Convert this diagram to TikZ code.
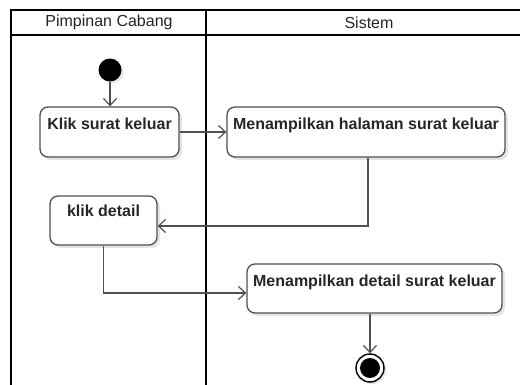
\documentclass[tikz,border=0pt]{standalone}
\usepackage{fontspec}
\setmainfont{Liberation Sans}
\usetikzlibrary{arrows.meta,calc,shadows}
\definecolor{edge}{HTML}{505050}
\definecolor{ink}{HTML}{262626}
\begin{document}
\begin{tikzpicture}[x=1pt,y=-1pt,
  lane/.style={draw=black,line width=2pt},
  lanetitle/.style={text=ink,font=\fontsize{16}{19}\selectfont,inner sep=0pt},
  action/.style={draw=edge,line width=1.3pt,rounded corners=8pt,fill=white,
    text=ink,font=\bfseries\fontsize{16}{19}\selectfont,inner xsep=0pt,inner ysep=0pt,
    drop shadow={shadow xshift=3pt,shadow yshift=-3pt,fill=black!10,opacity=1}},
  flow/.style={draw=edge,line width=1.2pt,-{Straight Barb[length=7pt,width=13pt,line width=1.2pt]}},
  startdot/.style={circle,fill=black,minimum size=23pt,inner sep=0pt,
    drop shadow={shadow xshift=2pt,shadow yshift=-2pt,fill=black!10,opacity=1}},
  enddot/.style={circle,draw=black,line width=1.4pt,fill=white,minimum size=28pt,inner sep=0pt,
    drop shadow={shadow xshift=2pt,shadow yshift=-2pt,fill=black!10,opacity=1}},
]
\useasboundingbox (0,0) rectangle (520,385);
\fill[white] (0,0) rectangle (520,385);

% swimlanes
\draw[lane] (11,385) -- (11,10) -- (521,10);
\draw[lane] (11,35) -- (521,35);
\draw[lane] (206,10) -- (206,385);
\node[lanetitle] (laneA) at (109,22.5) {Pimpinan Cabang};
\node[lanetitle] (laneB) at (369,22.5) {Sistem};

% activity nodes
\node[startdot] (start) at (110,70) {};
\node[action,minimum width=139pt,text height=23pt,text depth=27pt] (klik) at (109.5,132) {Klik surat keluar};
\node[action,minimum width=278pt,text height=23pt,text depth=27pt] (halaman) at (366,132) {Menampilkan halaman surat keluar};
\node[action,minimum width=107pt,text height=21pt,text depth=28pt] (detailk) at (103.5,220.5) {klik detail};
\node[action,minimum width=255pt,text height=22pt,text depth=27pt] (detail) at (374.5,288.5) {Menampilkan detail surat keluar};
\node[enddot] (final) at (370,368) {};
\node[circle,fill=black,minimum size=20pt,inner sep=0pt] (finaldot) at (final) {};

% transitions
\draw[flow] (start) -- (start |- klik.north);
\draw[flow] (klik.east) -- (halaman.west);
\draw[flow] ($(halaman.south)+(2,0)$) |- ($(detailk.east)+(0,5.5)$);
\draw[flow] (detailk.south) |- ($(detail.west)+(0,4.5)$);
\draw[flow] (final |- detail.south) -- (final.north);
\end{tikzpicture}
\end{document}
